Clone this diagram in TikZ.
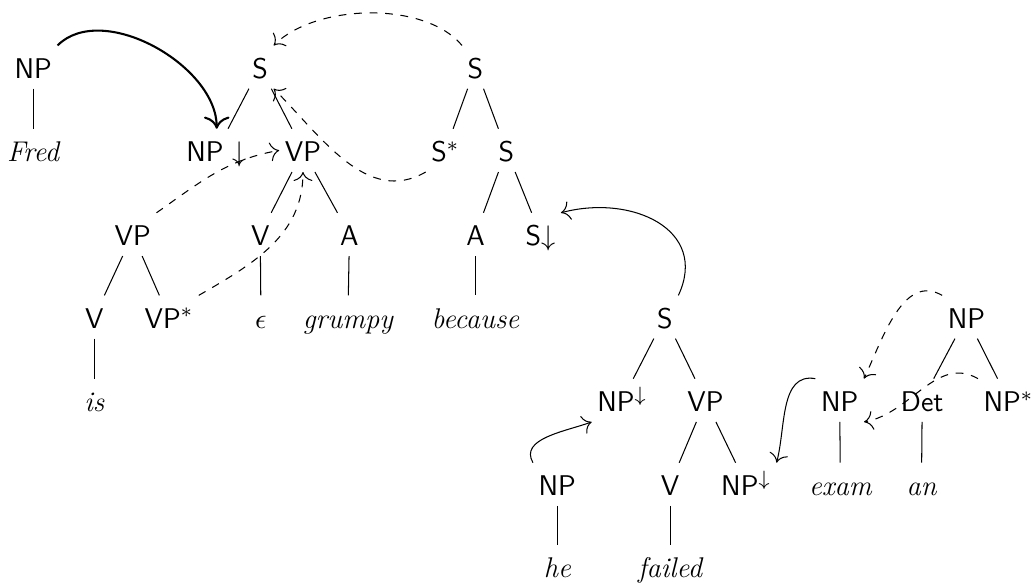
\documentclass[tikz,border=0pt]{standalone}
\usepackage{fontspec}
\usetikzlibrary{arrows.meta}
\tikzset{
    cat/.style  =   {font=\fontsize{11}{13}\selectfont\sffamily,
                    text=black,
                    text height=10.4pt,
                    text depth=1.9pt,
                    inner sep=2pt},
    word/.style =   {font=\fontsize{11}{13}\selectfont\itshape,
                    text=black,
                    text height=10.4pt,
                    text depth=1.9pt,
                    inner sep=2pt},
    subst/.style =  {->},
    adj/.style  =   {->, dashed},
    >={To[scale=1.4]}}

\begin{document}
\begin{tikzpicture}
            \useasboundingbox (0,0) rectangle (14.04,-7.94);
            % Fred
            \node[cat]    (NPf)    at (0.45,-0.91)    {NP};
            \node[word]   (fred)   at (0.45,-2.04)    {Fred};
            \draw  (NPf) -- (fred);
            % grumpy
            \node[cat]    (Sg)     at (3.53,-0.91)    {S};
            \node[cat]    (NPg)    at (2.94,-2.04)    {NP $\downarrow$};
            \node[cat]    (VPg)    at (4.11,-2.04)    {VP};
            \node[cat]    (Vg)     at (3.53,-3.18)    {V};
            \node[cat]    (Ag)     at (4.74,-3.18)    {A};
            \node[word]   (eps)    at (3.54,-4.30)    {$\epsilon$};
            \node[word]   (grumpy) at (4.72,-4.30)    {grumpy};
            \draw  (Sg) -- (NPg);
            \draw  (Sg) -- (VPg);
            \draw  (VPg) -- (Vg);
            \draw  (VPg) -- (Ag);
            \draw  (Vg) -- (eps);
            \draw  (Ag) -- (grumpy);
            % is
            \node[cat]    (VPa)    at (1.80,-3.18)    {VP};
            \node[cat]    (Va)     at (1.28,-4.30)    {V};
            \node[cat]    (VPstar) at (2.29,-4.30)    {VP$^*$};
            \node[word]   (is)     at (1.28,-5.43)    {is};
            \draw  (VPa) -- (Va);
            \draw  (VPa) -- (VPstar);
            \draw  (Va) -- (is);
            % because
            \node[cat]    (Sb)     at (6.45,-0.91)    {S};
            \node[cat]    (Sstar)  at (6.04,-2.04)    {S$^*$};
            \node[cat]    (Sbb)    at (6.87,-2.04)    {S};
            \node[cat]    (Ab)     at (6.45,-3.18)    {A};
            \node[cat]    (Sdown)  at (7.33,-3.18)    {S$\downarrow$};
            \node[word]   (because) at (6.45,-4.30)   {because};
            \draw  (Sb) -- (Sstar);
            \draw  (Sb) -- (Sbb);
            \draw  (Sbb) -- (Ab);
            \draw  (Sbb) -- (Sdown);
            \draw  (Ab) -- (because);
            % failed
            \node[cat]    (Sc)     at (9.02,-4.30)    {S};
            \node[cat]    (NPsubj) at (8.44,-5.43)    {NP$^\downarrow$};
            \node[cat]    (VPc)    at (9.57,-5.43)    {VP};
            \node[cat]    (Vc)     at (9.09,-6.57)    {V};
            \node[cat]    (NPobj)  at (10.12,-6.57)   {NP$^\downarrow$};
            \node[word]   (failed) at (9.09,-7.69)    {failed};
            \draw  (Sc) -- (NPsubj);
            \draw  (Sc) -- (VPc);
            \draw  (VPc) -- (Vc);
            \draw  (VPc) -- (NPobj);
            \draw  (Vc) -- (failed);
            % he
            \node[cat]    (NPhe)   at (7.56,-6.57)    {NP};
            \node[word]   (he)     at (7.56,-7.69)    {he};
            \draw  (NPhe) -- (he);
            % exam
            \node[cat]    (NPexam) at (11.39,-5.43)   {NP};
            \node[word]   (exam)   at (11.40,-6.57)   {exam};
            \draw  (NPexam) -- (exam);
            % an
            \node[cat]    (NPan)   at (13.11,-4.30)   {NP};
            \node[cat]    (Det)    at (12.51,-5.43)   {Det};
            \node[cat]    (NPstar) at (13.68,-5.43)   {NP$^*$};
            \node[word]   (an)     at (12.50,-6.57)   {an};
            \draw  (NPan) -- (Det);
            \draw  (NPan) -- (NPstar);
            \draw  (Det) -- (an);
            % substitution and adjunction
            \draw[subst,thick] (NPf.north east) to[out=45,in=90,looseness=0.9] (NPg.north);
            \draw[adj]   (VPa.north east) to[out=35,in=190] (VPg.west);
            \draw[adj]   (VPstar.north east) to[out=30,in=-90] (VPg.south);
            \draw[adj]   (Sstar.south west) to[out=-150,in=-45] (Sg.south east);
            \draw[adj]   (Sb.north west) to[out=130,in=45,looseness=0.8] (Sg.north east);
            \draw[subst] (Sc.north east) to[out=65,in=15,looseness=1.3] (Sdown.north east);
            \draw[subst] (NPhe.north west) to[out=120,in=200] (NPsubj.south west);
            \draw[subst] (NPexam.north west) to[out=170,in=75] (NPobj.north east);
            \draw[adj]   (NPan.north west) to[out=150,in=65] (NPexam.north east);
            \draw[adj]   (NPstar.north west) to[out=150,in=10] (NPexam.south east);
\end{tikzpicture}
\end{document}
